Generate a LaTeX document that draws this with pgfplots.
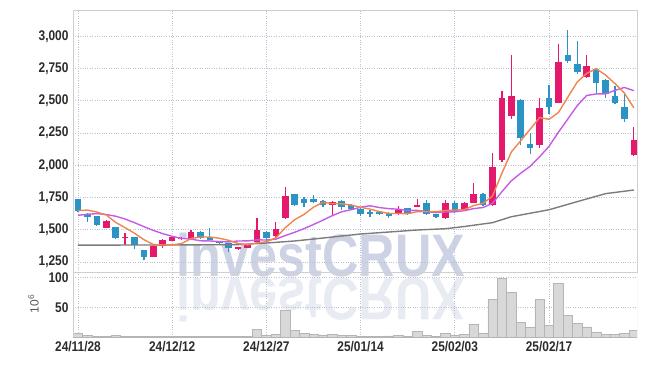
\documentclass[border=0pt]{standalone}
\usepackage{pgfplots}
\pgfplotsset{compat=1.18}
\usepackage{pgfplotstable}
\usepackage{fontspec}
\setmainfont{Liberation Sans}
\newfontfamily\tickfont{Liberation Sans}[FakeStretch=0.85]
\newfontfamily\wmfont{Liberation Sans}[FakeStretch=0.84]
\definecolor{upc}{HTML}{E5196B}
\definecolor{dnc}{HTML}{2C93C5}
\definecolor{ma5c}{HTML}{EF8650}
\definecolor{ma10c}{HTML}{C65BE8}
\definecolor{malc}{HTML}{7C7C7C}
\definecolor{gridc}{HTML}{B9C1D3}
\definecolor{framec}{HTML}{CFCFCF}
\definecolor{volc}{HTML}{D8D8D8}
\definecolor{voledge}{HTML}{B5B5B5}
\definecolor{wmc}{HTML}{CDD3E4}
\definecolor{wmr}{HTML}{E8EBF2}
\definecolor{labc}{HTML}{2B2B2B}

\pgfplotstableread{
i O H L C
3 1515 1575 1510 1565
5 1435 1475 1380 1440
8 1290 1380 1285 1375
9 1375 1425 1360 1420
10 1415 1450 1410 1445
11 1425 1440 1420 1435
12 1425 1495 1420 1485
17 1350 1370 1345 1365
18 1360 1385 1355 1380
19 1405 1595 1400 1500
21 1450 1560 1445 1505
22 1590 1835 1585 1760
27 1690 1725 1615 1715
34 1620 1685 1615 1660
36 1680 1735 1675 1695
39 1590 1730 1580 1705
41 1655 1715 1650 1710
42 1710 1865 1705 1780
44 1690 2095 1685 1985
45 2040 2575 2025 2525
46 2385 2855 2360 2535
49 2160 2525 2135 2440
51 2485 2940 2480 2800
54 2685 2855 2680 2770
59 2080 2295 2075 2195
}\upT

\pgfplotstableread{
i O H L C
0 1735 1740 1640 1645
1 1625 1630 1560 1600
2 1605 1610 1530 1540
4 1520 1525 1425 1435
6 1440 1445 1350 1385
7 1340 1345 1265 1290
13 1485 1490 1430 1435
14 1440 1510 1415 1420
15 1410 1415 1380 1395
16 1395 1400 1330 1355
20 1485 1490 1400 1435
23 1775 1780 1685 1690
24 1735 1755 1680 1705
25 1735 1770 1710 1715
26 1725 1730 1680 1690
28 1725 1730 1655 1680
29 1690 1700 1655 1660
30 1660 1665 1605 1625
31 1635 1650 1600 1620
32 1640 1645 1615 1620
33 1630 1635 1590 1605
35 1665 1670 1615 1620
37 1705 1730 1620 1625
38 1620 1625 1595 1600
40 1710 1720 1635 1640
43 1780 1785 1685 1690
47 2505 2510 2155 2215
48 2165 2250 2090 2135
50 2520 2625 2395 2455
52 2855 3050 2795 2810
53 2785 2960 2710 2725
55 2745 2750 2550 2640
56 2660 2665 2525 2550
57 2535 2615 2475 2480
58 2450 2560 2335 2360
}\dnT

\pgfplotstableread{
i m5 m10
0 1648 1612
1 1653 1620
2 1637 1625
3 1615 1618
4 1557 1605
5 1516 1583
6 1473 1555
7 1423 1524
8 1385 1495
9 1382 1469.5
10 1383 1449.5
11 1393 1433
12 1432 1427.5
13 1444 1414.5
14 1444 1413
15 1434 1408.5
16 1418 1405.5
17 1394 1413
18 1383 1413.5
19 1399 1421.5
20 1407 1420.5
21 1437 1427.5
22 1516 1455
23 1578 1480.5
24 1619 1509
25 1675 1541
26 1712 1574.5
27 1703 1609.5
28 1701 1639.5
29 1692 1655.5
30 1674 1674.5
31 1660 1686
32 1641 1672
33 1626 1663.5
34 1626 1659
35 1625 1649.5
36 1640 1650
37 1641 1641
38 1640 1633
39 1649 1637.5
40 1653 1639
41 1656 1648
42 1687 1664
43 1705 1672.5
44 1761 1705
45 1938 1795.5
46 2103 1879.5
47 2190 1938.5
48 2279 1992
49 2370 2065.5
50 2356 2147
51 2409 2256
52 2528 2359
53 2646 2462.5
54 2712 2541
55 2749 2552.5
56 2699 2554
57 2633 2580.5
58 2560 2603
59 2445 2578.5
}\maT

\pgfplotstableread{
i m
0 1381
10 1382
17 1385
20 1397
23 1413
25 1428
30 1467
36 1498
39 1508
41 1525
44 1555
46 1601
50 1655
53 1718
56 1780
59 1808
}\mlT

\pgfplotstableread{
i v
0 6
1 3
2 1.5
3 1.5
4 3
5 1.5
6 1.5
7 1.5
8 1.5
9 1
10 0.5
11 0.5
12 1.5
13 0.5
14 1.5
15 0.5
16 0.5
17 0.5
18 0.5
19 13
20 3
21 5
22 45
23 11
24 6.5
25 5
26 3.5
27 5
28 3
29 3
30 1.5
31 1.5
32 1
33 2
34 3
35 1
36 9.5
37 3
38 1.5
39 6
40 3
41 4
42 22
43 7
44 63
45 99
46 75
47 25
48 16
49 63
50 20
51 90
52 36
53 23
54 17
55 8.5
56 5
57 5
58 6
59 11
}\volT

\begin{document}
\begin{tikzpicture}
\useasboundingbox (0,0) rectangle (647bp,-366bp);
% watermark
\node[anchor=base, inner sep=0, text=wmc] at (321bp,-276bp) {\wmfont\bfseries\fontsize{60bp}{60bp}\selectfont investCRUX};
\node[anchor=base, inner sep=0, text=wmr, yscale=-1, transform shape] at (321bp,-278bp) {\wmfont\bfseries\fontsize{60bp}{60bp}\selectfont investCRUX};

\pgfplotsset{
  mystyle/.style={
    scale only axis, width=564bp,
    xmin=-0.53, xmax=59.34,
    xtick={0,10,20,30,40,50},
    grid=major,
    grid style={gridc, dotted, line width=0.7bp},
    major tick length=0pt,
    tick label style={font=\tickfont\bfseries\fontsize{14bp}{16bp}\selectfont, text=labc},
  }
}
\begin{axis}[mystyle,
  at={(73bp,-10bp)}, anchor=north west, height=262bp,
  ymin=1172.5, ymax=3203.5,
  xticklabels={},
  ytick={1250,1500,1750,2000,2250,2500,2750,3000},
  yticklabels={{1,250},{1,500},{1,750},{2,000},{2,250},{2,500},{2,750},{3,000}},
  yticklabel style={xshift=-1bp},
  axis line style={framec, line width=0.8bp},
]
% wicks
\addplot[draw=none, forget plot, error bars/.cd, y dir=both, y explicit, error mark=none,
  error bar style={draw=upc, line width=1.2bp}]
  table[x=i, y=C, y error plus expr=\thisrow{H}-\thisrow{C}, y error minus expr=\thisrow{C}-\thisrow{L}] {\upT};
\addplot[draw=none, forget plot, error bars/.cd, y dir=both, y explicit, error mark=none,
  error bar style={draw=dnc, line width=1.2bp}]
  table[x=i, y=C, y error plus expr=\thisrow{H}-\thisrow{C}, y error minus expr=\thisrow{C}-\thisrow{L}] {\dnT};
% bodies
\addplot[draw=none, forget plot, error bars/.cd, y dir=plus, y explicit, error mark=none,
  error bar style={draw=upc, line width=6.6bp}]
  table[x=i, y=O, y error plus expr=\thisrow{C}-\thisrow{O}] {\upT};
\addplot[draw=none, forget plot, error bars/.cd, y dir=plus, y explicit, error mark=none,
  error bar style={draw=dnc, line width=6.6bp}]
  table[x=i, y=C, y error plus expr=\thisrow{O}-\thisrow{C}] {\dnT};
% moving averages
\addplot[malc, line width=1.4bp] table[x=i, y=m] {\mlT};
\addplot[ma10c, line width=1.4bp] table[x=i, y=m10] {\maT};
\addplot[ma5c, line width=1.4bp] table[x=i, y=m5] {\maT};
\end{axis}

\begin{axis}[mystyle,
  at={(73bp,-272bp)}, anchor=north west, height=65bp,
  ymin=0, ymax=109.2,
  xticklabels={24/11/28,24/12/12,24/12/27,25/01/14,25/02/03,25/02/17},
  xticklabel style={yshift=-1bp},
  ytick={50,100},
  yticklabels={50,100},
  yticklabel style={xshift=-1bp},
  axis line style={draw=none},
]
\addplot[ybar, bar width=1, fill=volc, draw=voledge, line width=0.5bp] table[x=i, y=v] {\volT};
\draw[framec, line width=0.8bp] (rel axis cs:0,0) -- (rel axis cs:0,1);
\draw[framec, line width=0.8bp] (rel axis cs:1,0) -- (rel axis cs:1,1);
\end{axis}

\node[rotate=90, text=black!65, inner sep=0] at (33.5bp,-304bp) {\fontsize{12bp}{12bp}\selectfont 10\textsuperscript{6}};
\end{tikzpicture}
\end{document}
